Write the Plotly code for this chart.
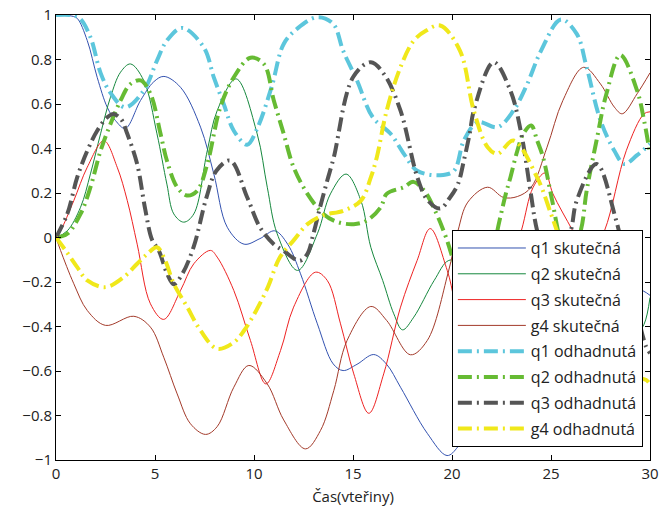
import plotly.graph_objects as go

# --- measured joint trajectories (time in seconds) ---
t_q1 = [0, 0.8, 1.07, 1.58, 2.08, 2.59, 3.0, 3.5, 4.27, 4.94, 5.45, 6.29, 7.3, 7.97, 8.65, 9.5,
        10.3, 11.05, 11.7, 12.35, 13.2, 14.0, 14.5, 15.2, 16.05, 16.7, 17.4, 18.75, 19.75, 20.3,
        21.0, 22.5, 24.0, 25.5, 27.0, 28.5, 29.4, 30]
q1_real = [1.0, 0.995, 0.985, 0.885, 0.72, 0.585, 0.526, 0.49, 0.616, 0.70, 0.724, 0.675, 0.496,
           0.286, 0.046, -0.03, -0.005, 0.03, -0.03, -0.163, -0.388, -0.568, -0.598, -0.57, -0.526,
           -0.57, -0.673, -0.88, -0.98, -0.94, -0.82, -0.56, -0.45, -0.5, -0.42, -0.3, -0.235, -0.26]

t_q2 = [0, 0.57, 1.24, 1.74, 2.25, 2.75, 3.26, 3.76, 4.43, 5.1, 5.6, 5.95, 6.45, 6.96, 7.64, 8.14,
        9.1, 10.16, 10.67, 11.17, 12.2, 13.2, 13.86, 14.65, 15.4, 15.9, 16.5, 17.06, 17.5, 18.07,
        19.1, 19.84, 20.6, 22.0, 24.0, 26.0, 28.0, 29.2, 29.7, 30]
q2_real = [0, 0.03, 0.136, 0.286, 0.466, 0.63, 0.743, 0.78, 0.706, 0.466, 0.24, 0.106, 0.069, 0.106,
           0.39, 0.57, 0.713, 0.466, 0.226, 0.017, -0.148, 0.017, 0.196, 0.285, 0.166, -0.044,
           -0.193, -0.343, -0.415, -0.358, -0.193, -0.103, -0.12, -0.35, -0.6, -0.5, -0.55, -0.45,
           -0.39, -0.27]

t_q3 = [0, 0.23, 0.9, 1.58, 2.42, 3.09, 3.6, 4.1, 4.77, 5.44, 6.29, 6.96, 7.8, 8.14, 8.98, 9.82,
        10.6, 11.34, 12.0, 13.1, 13.7, 14.37, 15.04, 15.8, 16.55, 17.4, 18.24, 18.9, 19.76, 20.6,
        21.5, 22.5, 23.5, 24.1, 24.7, 25.1, 26.1, 26.9, 27.7, 28.8, 29.7, 30]
q3_real = [0, 0.03, 0.166, 0.316, 0.435, 0.316, 0.166, -0.03, -0.298, -0.368, -0.238, -0.118,
           -0.058, -0.088, -0.238, -0.463, -0.658, -0.508, -0.313, -0.156, -0.193, -0.388, -0.613,
           -0.79, -0.613, -0.313, -0.103, 0.04, -0.148, -0.42, -0.48, -0.25, 0.03, 0.226, 0.29,
           0.196, 0.03, -0.1, 0.03, 0.39, 0.556, 0.565]

t_g4 = [0, 0.23, 0.9, 1.58, 2.5, 3.93, 4.77, 5.44, 6.12, 6.79, 7.55, 8.14, 8.98, 9.74, 10.67, 11.5,
        12.6, 13.36, 14.03, 14.7, 15.9, 16.7, 17.9, 18.75, 19.8, 20.3, 20.8, 21.8, 22.6, 23.3, 24.0,
        24.8, 25.6, 26.65, 27.5, 28.2, 28.6, 29.35, 30]
g4_real = [0, -0.058, -0.208, -0.328, -0.395, -0.354, -0.403, -0.538, -0.703, -0.837, -0.885, -0.85,
           -0.673, -0.575, -0.658, -0.82, -0.95, -0.867, -0.688, -0.463, -0.31, -0.373, -0.527,
           -0.463, -0.16, 0.03, 0.159, 0.226, 0.18, 0.184, 0.226, 0.406, 0.616, 0.765, 0.69, 0.586,
           0.556, 0.646, 0.74]

# --- estimated trajectories ---
t_q1e = [0, 0.73, 1.2, 1.74, 2.25, 2.75, 3.5, 4.43, 5.1, 5.6, 6.37, 7.46, 7.97, 8.47, 8.98, 9.65,
         10.16, 10.9, 11.5, 12.2, 13.2, 14.0, 14.5, 15.2, 16.0, 16.9, 17.57, 18.24, 19.4, 20.1,
         20.6, 21.3, 22.3, 23.1, 23.8, 24.5, 25.5, 26.3, 26.8, 27.5, 28.2, 28.7, 29.35, 30]
q1_est = [1.0, 1.0, 0.985, 0.9, 0.74, 0.65, 0.585, 0.66, 0.795, 0.885, 0.942, 0.855, 0.72, 0.6,
          0.48, 0.417, 0.49, 0.68, 0.87, 0.94, 0.99, 0.96, 0.84, 0.706, 0.54, 0.466, 0.376, 0.30,
          0.28, 0.30, 0.436, 0.518, 0.496, 0.57, 0.69, 0.84, 0.98, 0.915, 0.765, 0.526, 0.39, 0.33,
          0.37, 0.42]

t_q2e = [0, 0.57, 1.24, 1.74, 2.25, 2.75, 3.26, 3.76, 4.27, 4.77, 5.28, 5.6, 6.12, 6.6, 7.13, 7.64,
         8.3, 8.98, 9.82, 10.5, 11.0, 11.5, 12.0, 12.7, 13.5, 14.2, 15.04, 15.7, 16.4, 16.7, 17.57,
         18.05, 18.6, 19.2, 19.7, 20.4, 21.1, 21.8, 22.4, 22.7, 22.95, 23.3, 23.6, 24.0, 24.3, 24.6,
         25.06, 25.5, 25.9, 26.5, 26.8, 27.3, 27.8, 28.5, 29.35, 29.7, 30]
q2_est = [0, 0.017, 0.106, 0.226, 0.39, 0.51, 0.616, 0.69, 0.706, 0.646, 0.466, 0.346, 0.226, 0.189,
          0.21, 0.33, 0.586, 0.72, 0.808, 0.78, 0.616, 0.466, 0.316, 0.196, 0.106, 0.07, 0.06,
          0.076, 0.136, 0.196, 0.226, 0.25, 0.21, 0.11, 0.0, -0.18, -0.26, -0.15, 0.076, 0.19,
          0.27, 0.39, 0.466, 0.503, 0.436, 0.36, 0.166, -0.02, -0.1, 0.03, 0.21, 0.436, 0.646,
          0.82, 0.66, 0.526, 0.376]

t_q3e = [0, 0.57, 1.07, 1.58, 2.08, 2.59, 2.9, 3.3, 3.6, 4.1, 4.5, 4.85, 5.2, 5.6, 5.95, 6.4, 6.96,
         7.6, 8.1, 8.8, 9.66, 10.3, 11.0, 11.5, 12.3, 12.7, 13.0, 13.36, 13.7, 14.03, 15.0, 15.9,
         16.6, 17.4, 18.25, 18.75, 19.4, 19.9, 20.3, 20.6, 20.9, 21.1, 22.1, 22.95, 23.5, 23.96,
         24.3, 25.1, 26.0, 26.3, 27.3, 28.25, 29.0, 29.8, 30]
q3_est = [0, 0.106, 0.27, 0.39, 0.48, 0.54, 0.555, 0.53, 0.466, 0.33, 0.13, -0.01, -0.06, -0.16,
          -0.21, -0.16, -0.04, 0.18, 0.30, 0.346, 0.18, 0.046, -0.03, -0.06, -0.105, -0.073, 0.017,
          0.144, 0.256, 0.36, 0.72, 0.788, 0.73, 0.57, 0.27, 0.17, 0.13, 0.18, 0.24, 0.346, 0.47,
          0.57, 0.788, 0.66, 0.466, 0.21, 0.03, -0.2, 0.03, 0.166, 0.33, 0.09, -0.2, -0.49, -0.52]

t_g4e = [0, 0.5, 1.07, 1.58, 2.5, 3.42, 4.1, 4.6, 5.1, 5.5, 5.95, 6.63, 7.3, 8.14, 9.0, 9.5, 10.1,
         10.7, 11.3, 12.0, 12.7, 13.5, 14.5, 15.4, 15.9, 16.2, 16.7, 17.4, 18.07, 18.7, 19.4, 20.4,
         21.1, 21.8, 22.3, 23.1, 24.3, 25.0, 25.3, 26.5, 27.8, 29.0, 29.8, 30]
g4_est = [0, -0.06, -0.133, -0.193, -0.223, -0.178, -0.118, -0.075, -0.044, -0.1, -0.208, -0.313,
          -0.418, -0.5, -0.47, -0.418, -0.33, -0.223, -0.09, -0.013, 0.06, 0.1, 0.12, 0.166, 0.27,
          0.36, 0.57, 0.766, 0.885, 0.93, 0.953, 0.84, 0.57, 0.406, 0.376, 0.436, 0.27, 0.106,
          0.03, -0.3, -0.52, -0.62, -0.64, -0.66]

y_ticks = [-1, -0.8, -0.6, -0.4, -0.2, 0, 0.2, 0.4, 0.6, 0.8, 1]
x_ticks = [0, 5, 10, 15, 20, 25, 30]

FONT = "Open Sans, Arial, sans-serif"
DASHDOT = "14px,5px,2px,5px"

series = [
    ("q1 skutečná", t_q1, q1_real, "#3352b0", 1.0, "solid"),
    ("q2 skutečná", t_q2, q2_real, "#16883e", 1.0, "solid"),
    ("q3 skutečná", t_q3, q3_real, "#ee2222", 1.0, "solid"),
    ("g4 skutečná", t_g4, g4_real, "#a33a2a", 1.0, "solid"),
    ("q1 odhadnutá", t_q1e, q1_est, "#5cc6dc", 4.0, DASHDOT),
    ("q2 odhadnutá", t_q2e, q2_est, "#66bb33", 4.0, DASHDOT),
    ("q3 odhadnutá", t_q3e, q3_est, "#555555", 4.0, DASHDOT),
    ("g4 odhadnutá", t_g4e, g4_est, "#f0e81a", 4.0, DASHDOT),
]

fig = go.Figure()
for i, (name, t, y, color, width, dash) in enumerate(series):
    fig.add_trace(go.Scatter(
        x=t, y=y, mode="lines", name=name, legendgroup=str(i),
        line=dict(color=color, width=width, dash=dash, shape="spline", smoothing=1.0),
    ))

axis_common = dict(
    showline=True, linecolor="black", linewidth=1, mirror="ticks",
    ticks="inside", ticklen=5, tickcolor="black", showgrid=False, zeroline=False,
    tickfont=dict(family=FONT, size=15, color="#222"), automargin=False,
)

fig.update_layout(
    width=659, height=513,
    margin=dict(l=56, r=9, t=15, b=53),
    paper_bgcolor="white", plot_bgcolor="white",
    font=dict(family=FONT, size=15, color="#222"),
    xaxis=dict(range=[0, 30], tickvals=x_ticks,
               title=dict(text="Čas(vteřiny)", font=dict(family=FONT, size=15), standoff=9),
               **axis_common),
    yaxis=dict(range=[-1, 1], tickvals=y_ticks, **axis_common),
    legend=dict(
        x=0.988, y=0.029, xanchor="right", yanchor="bottom",
        bgcolor="white", bordercolor="black", borderwidth=1,
        font=dict(family=FONT, size=16, color="#222"),
        tracegroupgap=2, itemwidth=68,
    ),
    showlegend=True,
)

fig.write_html("out.html")
